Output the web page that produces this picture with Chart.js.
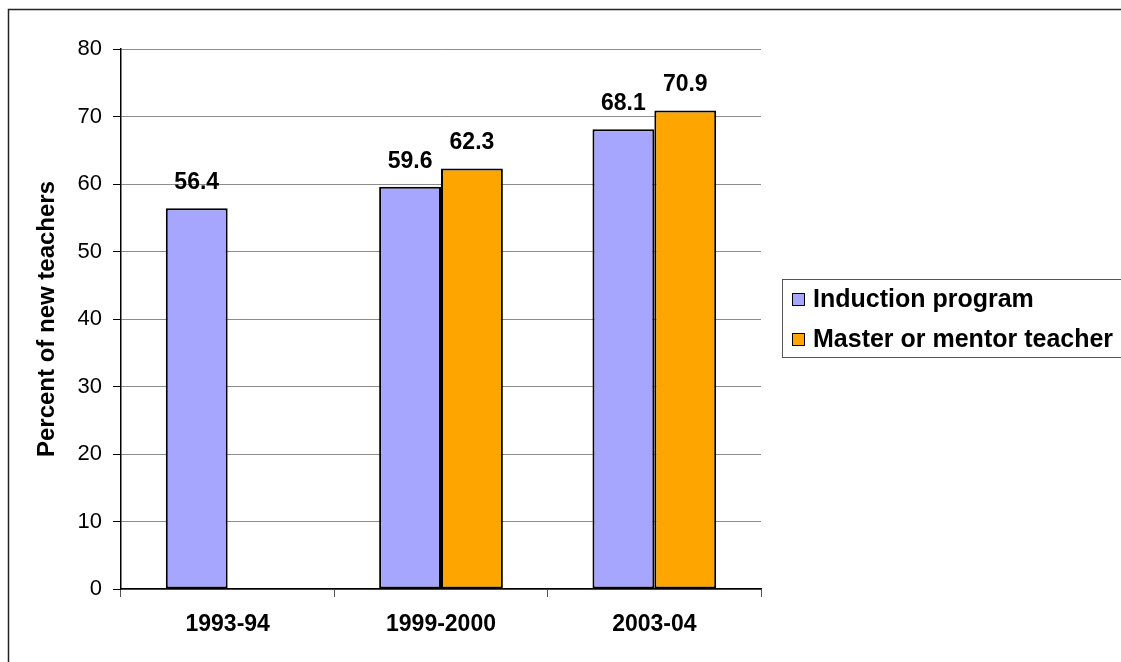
<!DOCTYPE html>
<html>
<head>
<meta charset="utf-8">
<script src="https://cdn.jsdelivr.net/npm/chart.js@4.4.1/dist/chart.umd.min.js"></script>
<style>
  html, body { margin: 0; padding: 0; background: #ffffff; }
  #wrap { position: relative; width: 1121px; height: 662px; }
  canvas { display: block; }
</style>
</head>
<body>
<div id="wrap"><canvas id="c" width="1121" height="662"></canvas></div>
<script>
const categories = ['1993-94', '1999-2000', '2003-04'];
const inductionProgram = [56.4, 59.6, 68.1];
const masterMentorTeacher = [null, 62.3, 70.9];
const seriesNames = ['Induction program', 'Master or mentor teacher'];
const yTicks = [0, 10, 20, 30, 40, 50, 60, 70, 80];
const yAxisTitle = 'Percent of new teachers';

const FONT = "'Liberation Sans', Arial, sans-serif";

const framePlugin = {
  id: 'frame',
  afterDraw(chart) {
    const ctx = chart.ctx;
    ctx.save();
    ctx.strokeStyle = '#222222';
    ctx.lineWidth = 1.5;
    ctx.strokeRect(8.5, 9.5, 1300, 900);
    ctx.restore();
  }
};

const valueLabelPlugin = {
  id: 'valueLabels',
  afterDatasetsDraw(chart) {
    const ctx = chart.ctx;
    ctx.save();
    ctx.font = 'bold 23px ' + FONT;
    ctx.fillStyle = '#000000';
    ctx.textAlign = 'center';
    ctx.textBaseline = 'alphabetic';
    chart.data.datasets.forEach((ds, di) => {
      const meta = chart.getDatasetMeta(di);
      meta.data.forEach((bar, i) => {
        const v = ds.data[i];
        if (v === null || v === undefined) return;
        ctx.fillText(v.toFixed(1), bar.x, bar.y - 19);
      });
    });
    ctx.restore();
  }
};

const boxLegendPlugin = {
  id: 'boxLegend',
  afterDraw(chart) {
    const ctx = chart.ctx;
    ctx.save();
    ctx.strokeStyle = '#555555';
    ctx.lineWidth = 1;
    ctx.strokeRect(782.5, 279.5, 400, 78);
    ctx.font = 'bold 25px ' + FONT;
    ctx.textAlign = 'left';
    ctx.textBaseline = 'middle';
    const rows = [299, 339];
    chart.data.datasets.forEach((ds, i) => {
      const y = rows[i];
      ctx.fillStyle = ds.backgroundColor;
      ctx.fillRect(792, y - 6, 12, 12);
      ctx.strokeStyle = '#000000';
      ctx.lineWidth = 1;
      ctx.strokeRect(792.5, y - 5.5, 12, 12);
      ctx.fillStyle = '#000000';
      ctx.fillText(ds.label, 813, y + 1);
    });
    ctx.restore();
  }
};

new Chart(document.getElementById('c'), {
  type: 'bar',
  data: {
    labels: categories,
    datasets: [
      {
        label: seriesNames[0],
        data: inductionProgram,
        backgroundColor: '#A6A6FF',
        borderColor: '#000000',
        borderWidth: 2,
        borderSkipped: false,
        categoryPercentage: 0.58,
        barPercentage: 1.0
      },
      {
        label: seriesNames[1],
        data: masterMentorTeacher,
        backgroundColor: '#FFA500',
        borderColor: '#000000',
        borderWidth: 2,
        borderSkipped: false,
        categoryPercentage: 0.58,
        barPercentage: 1.0
      }
    ]
  },
  options: {
    responsive: false,
    animation: false,
    devicePixelRatio: 1,
    layout: { padding: { left: 0, top: 49, right: 360, bottom: 0 } },
    plugins: {
      legend: { display: false },
      tooltip: { enabled: false },
      title: { display: false }
    },
    scales: {
      x: {
        offset: true,
        grid: {
          offset: true,
          drawOnChartArea: false,
          drawTicks: true,
          tickLength: 8,
          tickColor: '#555555'
        },
        border: { color: '#000000', width: 1.5 },
        ticks: {
          color: '#000000',
          font: { family: FONT, size: 23, weight: 'bold' },
          padding: 14,
          maxRotation: 0
        },
        afterFit(scale) { scale.height = 73; }
      },
      y: {
        min: 0,
        max: 80,
        afterBuildTicks(scale) { scale.ticks = yTicks.map(v => ({ value: v })); },
        grid: {
          color: '#8c8c8c',
          lineWidth: 1,
          drawTicks: true,
          tickLength: 8,
          tickColor: '#000000'
        },
        border: { color: '#000000', width: 1.5 },
        ticks: {
          color: '#000000',
          font: { family: FONT, size: 22 },
          padding: 11
        },
        title: {
          display: true,
          text: yAxisTitle,
          color: '#000000',
          font: { family: FONT, size: 24, weight: 'bold' },
          padding: { top: 33, bottom: 0 }
        },
        afterFit(scale) { scale.width = 121; }
      }
    }
  },
  plugins: [framePlugin, valueLabelPlugin, boxLegendPlugin]
});
</script>
</body>
</html>
